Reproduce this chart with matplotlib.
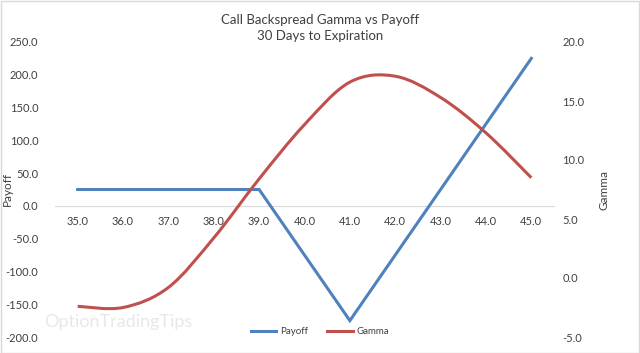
import matplotlib
matplotlib.use("Agg")
import matplotlib.pyplot as plt
from matplotlib.path import Path
from matplotlib.patches import PathPatch, Rectangle
from matplotlib.lines import Line2D
import numpy as np

plt.rcParams['font.family'] = ['Lato', 'DejaVu Sans']

strikes = ["35.0", "36.0", "37.0", "38.0", "39.0", "40.0", "41.0", "42.0", "43.0", "44.0", "45.0"]
payoff = [25, 25, 25, 25, 25, -75, -175, -75, 25, 125, 225]
gamma = [-2.4, -2.5, -0.8, 3.4, 8.4, 13.0, 16.6, 17.1, 15.3, 12.3, 8.5]

payoff_ticks = [-200, -150, -100, -50, 0, 50, 100, 150, 200, 250]
gamma_ticks = [-5, 0, 5, 10, 15, 20]

blue = "#4F81BD"
red = "#C0504D"
txt = "#404040"

W, H = 640, 353
fig = plt.figure(figsize=(W / 100, H / 100), dpi=100)
L, R, T, B = 55, 554, 42, 337
ax = fig.add_axes([L / W, 1 - B / H, (R - L) / W, (B - T) / H])
ax2 = ax.twinx()

x = np.arange(len(strikes))
ax.plot(x, payoff, color=blue, lw=2.2, solid_joinstyle='miter', zorder=3)
ax.set_xlim(-0.5, len(strikes) - 0.5)
ax.set_ylim(-200, 250)
ax.set_yticks(payoff_ticks)
ax.set_yticklabels([f"{v:.1f}" for v in payoff_ticks])
ax.set_xticks(x)
ax.set_xticklabels(strikes)

# smoothed gamma line (Bezier, Excel-style smoothing)
g = np.array(gamma, dtype=float)
pts = np.column_stack([x, g])
verts = [pts[0]]
codes = [Path.MOVETO]
n = len(pts)
for i in range(n - 1):
    p0 = pts[i - 1] if i > 0 else pts[i]
    p1 = pts[i]
    p2 = pts[i + 1]
    p3 = pts[i + 2] if i + 2 < n else pts[i + 1]
    c1 = p1 + (p2 - p0) / 6.0
    c2 = p2 - (p3 - p1) / 6.0
    verts += [c1, c2, p2]
    codes += [Path.CURVE4] * 3
patch = PathPatch(Path(verts, codes), facecolor='none', edgecolor=red, lw=2.2,
                  transform=ax2.transData, zorder=3)
ax2.add_patch(patch)
ax2.set_ylim(-5, 20)
ax2.set_yticks(gamma_ticks)
ax2.set_yticklabels([f"{v:.1f}" for v in gamma_ticks])

for a in (ax, ax2):
    for s in ['top', 'right', 'left', 'bottom']:
        a.spines[s].set_visible(False)
    a.tick_params(length=0, labelsize=8, colors=txt)
ax.spines['bottom'].set_visible(True)
ax.spines['bottom'].set_position(('data', 0))
ax.spines['bottom'].set_color('#d9d9d9')
ax.spines['bottom'].set_linewidth(0.8)
ax.tick_params(axis='x', pad=7)
ax.tick_params(axis='y', pad=12)
ax2.tick_params(axis='y', pad=6)

ax.set_ylabel("Payoff", fontsize=8.5, color=txt)
ax.yaxis.set_label_coords((13 - L) / (R - L), 0.5)
ax2.set_ylabel("Gamma", fontsize=8.5, color=txt)
ax2.yaxis.set_label_coords((598 - L) / (R - L), 0.5)

fig.text(0.5, 1 - 20 / H, "Call Backspread Gamma vs Payoff", ha='center', va='center', fontsize=9.5, color=txt)
fig.text(0.5, 1 - 36 / H, "30 Days to Expiration", ha='center', va='center', fontsize=9.5, color=txt)

fig.text(44 / W, 1 - 322 / H, "OptionTradingTips", ha='left', va='center', fontsize=13, color='#e8e8e8', zorder=0)

handles = [Line2D([], [], color=blue, lw=2.2), Line2D([], [], color=red, lw=2.2)]
fig.legend(handles, ["Payoff", "Gamma"], loc='center', bbox_to_anchor=(0.5, 1 - 332 / H), ncol=2,
           frameon=False, fontsize=7, handlelength=2.6, columnspacing=2.0, handletextpad=0.4,
           labelcolor=txt)

fig.add_artist(Rectangle((0.5 / W, 0.5 / H), 1 - 1.5 / W, 1 - 1.5 / H, transform=fig.transFigure,
                         facecolor='none', edgecolor='#d9d9d9', lw=1))

fig.savefig("out.png", dpi=100)
